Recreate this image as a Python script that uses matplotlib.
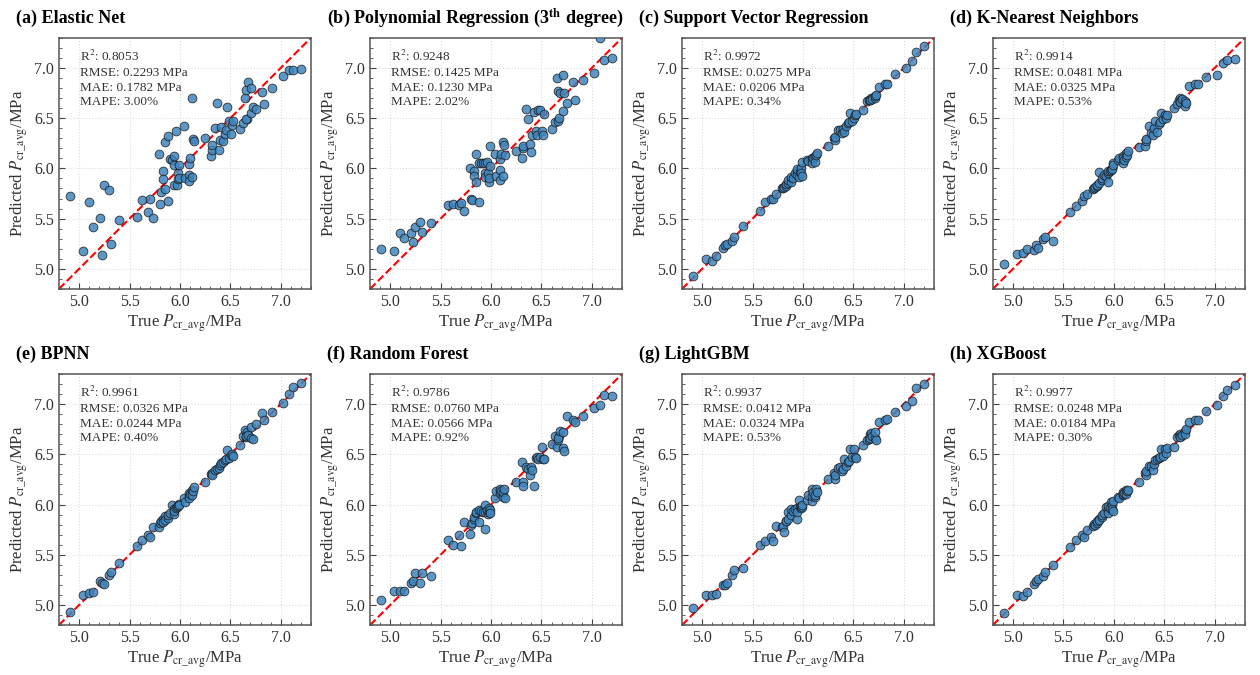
import matplotlib
matplotlib.use("Agg")
import matplotlib.pyplot as plt
from matplotlib.ticker import MultipleLocator

plt.rcParams["font.family"] = ["Liberation Serif", "DejaVu Serif"]
plt.rcParams["mathtext.fontset"] = "stix"

# true test-set values (shared by all models)
y_true = [4.91, 5.04, 5.10, 5.14, 5.21, 5.23, 5.25, 5.30, 5.32, 5.40,
          5.57, 5.62, 5.68, 5.70, 5.73, 5.79, 5.80, 5.81, 5.83, 5.83,
          5.85, 5.85, 5.88, 5.88, 5.90, 5.92, 5.94, 5.94, 5.94, 5.96,
          5.97, 5.98, 5.98, 5.99, 5.99, 6.04, 6.05, 6.09, 6.09, 6.09,
          6.10, 6.12, 6.12, 6.13, 6.14, 6.25, 6.31, 6.32, 6.32, 6.35,
          6.37, 6.39, 6.40, 6.41, 6.43, 6.45, 6.46, 6.47, 6.49, 6.51,
          6.52, 6.53, 6.60, 6.63, 6.65, 6.66, 6.67, 6.66, 6.68, 6.71,
          6.71, 6.72, 6.75, 6.81, 6.83, 6.91, 7.02, 7.08, 7.12, 7.20]

pred_enet = [5.72, 5.18, 5.67, 5.42, 5.51, 5.14, 5.83, 5.78, 5.25, 5.49,
             5.52, 5.69, 5.57, 5.70, 5.51, 6.14, 5.65, 5.76, 5.97, 5.89,
             6.26, 5.79, 6.32, 5.68, 6.09, 6.08, 6.03, 6.12, 5.83, 6.37,
             5.83, 5.95, 5.89, 6.03, 5.90, 6.42, 5.90, 5.93, 5.87, 6.04,
             6.10, 6.70, 5.91, 6.29, 6.27, 6.30, 6.12, 6.18, 6.23, 6.40,
             6.65, 6.18, 6.28, 6.41, 6.27, 6.34, 6.38, 6.61, 6.47, 6.34,
             6.43, 6.47, 6.39, 6.45, 6.70, 6.78, 6.49, 6.49, 6.86, 6.80,
             6.55, 6.61, 6.59, 6.76, 6.64, 6.80, 6.92, 6.98, 6.98, 6.99]

pred_poly = [5.20, 5.18, 5.36, 5.31, 5.36, 5.27, 5.42, 5.47, 5.37, 5.46,
             5.64, 5.65, 5.64, 5.66, 5.58, 6.00, 5.70, 5.69, 5.97, 5.92,
             6.14, 5.86, 6.05, 5.67, 6.05, 6.05, 5.95, 6.05, 5.91, 6.06,
             5.95, 5.86, 5.90, 6.02, 6.22, 6.14, 5.92, 5.98, 5.88, 6.09,
             6.14, 6.26, 5.92, 6.23, 6.13, 6.17, 6.10, 6.20, 6.22, 6.59,
             6.49, 6.24, 6.16, 6.33, 6.56, 6.37, 6.33, 6.58, 6.58, 6.37,
             6.33, 6.54, 6.39, 6.46, 6.90, 6.47, 6.50, 6.77, 6.75, 6.57,
             6.93, 6.75, 6.65, 6.86, 6.68, 6.88, 6.95, 7.30, 7.08, 7.10]

pred_svr = [4.93, 5.10, 5.08, 5.13, 5.21, 5.24, 5.25, 5.28, 5.32, 5.43,
            5.58, 5.67, 5.70, 5.70, 5.74, 5.80, 5.80, 5.81, 5.82, 5.84,
            5.85, 5.88, 5.86, 5.91, 5.90, 5.95, 5.97, 5.93, 5.99, 5.91,
            5.96, 6.00, 5.95, 6.06, 5.92, 6.08, 6.07, 6.10, 6.08, 6.05,
            6.10, 6.12, 6.06, 6.13, 6.15, 6.22, 6.30, 6.28, 6.31, 6.38,
            6.38, 6.35, 6.39, 6.36, 6.42, 6.45, 6.46, 6.55, 6.47, 6.50,
            6.53, 6.54, 6.58, 6.67, 6.68, 6.68, 6.70, 6.68, 6.69, 6.70,
            6.72, 6.73, 6.81, 6.84, 6.84, 6.94, 7.00, 7.07, 7.16, 7.22]

pred_knn = [5.05, 5.15, 5.16, 5.20, 5.19, 5.24, 5.21, 5.30, 5.32, 5.28,
            5.57, 5.63, 5.68, 5.72, 5.74, 5.79, 5.80, 5.81, 5.82, 5.83,
            5.96, 5.85, 5.88, 5.90, 5.93, 5.92, 5.95, 5.97, 5.86, 5.97,
            5.98, 6.00, 5.99, 6.05, 6.03, 6.08, 6.10, 6.12, 6.05, 6.10,
            6.08, 6.15, 6.11, 6.13, 6.17, 6.21, 6.22, 6.27, 6.29, 6.42,
            6.35, 6.33, 6.40, 6.47, 6.36, 6.44, 6.46, 6.55, 6.49, 6.53,
            6.50, 6.53, 6.60, 6.64, 6.68, 6.70, 6.68, 6.66, 6.69, 6.62,
            6.67, 6.65, 6.82, 6.84, 6.84, 6.91, 6.93, 7.05, 7.08, 7.09]

pred_bpnn = [4.93, 5.10, 5.12, 5.13, 5.24, 5.22, 5.21, 5.30, 5.33, 5.42,
             5.59, 5.65, 5.70, 5.68, 5.78, 5.78, 5.82, 5.84, 5.86, 5.83,
             5.89, 5.85, 5.87, 5.90, 5.92, 6.00, 5.96, 5.91, 5.94, 5.97,
             5.98, 6.00, 5.99, 6.01, 6.00, 6.06, 6.03, 6.11, 6.08, 6.06,
             6.10, 6.14, 6.09, 6.13, 6.17, 6.22, 6.30, 6.31, 6.29, 6.34,
             6.35, 6.36, 6.39, 6.41, 6.42, 6.44, 6.45, 6.54, 6.46, 6.49,
             6.50, 6.48, 6.59, 6.68, 6.74, 6.67, 6.72, 6.68, 6.69, 6.66,
             6.77, 6.65, 6.80, 6.91, 6.84, 6.92, 7.01, 7.10, 7.17, 7.21]

pred_rf = [5.05, 5.14, 5.14, 5.14, 5.22, 5.24, 5.32, 5.22, 5.32, 5.29,
           5.65, 5.60, 5.70, 5.59, 5.83, 5.71, 5.80, 5.82, 5.86, 5.88,
           5.92, 5.93, 5.95, 5.83, 5.94, 5.93, 6.00, 5.76, 5.93, 5.95,
           5.91, 5.93, 5.97, 5.95, 5.92, 6.06, 6.13, 6.14, 6.11, 6.15,
           6.13, 6.07, 6.12, 6.15, 6.06, 6.22, 6.42, 6.22, 6.18, 6.37,
           6.35, 6.29, 6.37, 6.34, 6.18, 6.46, 6.47, 6.45, 6.47, 6.57,
           6.45, 6.45, 6.60, 6.68, 6.57, 6.64, 6.68, 6.66, 6.73, 6.72,
           6.56, 6.53, 6.88, 6.84, 6.82, 6.88, 6.96, 6.99, 7.09, 7.08]

pred_lgbm = [4.97, 5.10, 5.10, 5.11, 5.20, 5.20, 5.22, 5.30, 5.35, 5.37,
             5.60, 5.64, 5.68, 5.64, 5.79, 5.78, 5.79, 5.73, 5.84, 5.84,
             5.93, 5.86, 5.90, 5.96, 5.94, 5.96, 5.86, 5.97, 5.93, 6.05,
             5.98, 5.97, 5.99, 5.98, 6.00, 6.05, 6.09, 6.15, 6.04, 6.08,
             6.12, 6.07, 6.09, 6.15, 6.12, 6.25, 6.31, 6.25, 6.29, 6.36,
             6.37, 6.33, 6.35, 6.45, 6.38, 6.42, 6.43, 6.55, 6.47, 6.55,
             6.47, 6.46, 6.59, 6.64, 6.65, 6.70, 6.71, 6.66, 6.68, 6.66,
             6.72, 6.64, 6.82, 6.84, 6.85, 6.92, 6.98, 7.03, 7.16, 7.20]

pred_xgb = [4.92, 5.10, 5.09, 5.13, 5.21, 5.24, 5.26, 5.29, 5.33, 5.40,
            5.58, 5.65, 5.70, 5.68, 5.75, 5.79, 5.81, 5.80, 5.82, 5.84,
            5.86, 5.85, 5.88, 5.90, 5.92, 5.98, 5.96, 5.92, 5.99, 5.97,
            6.03, 6.00, 5.96, 6.04, 5.94, 6.07, 6.06, 6.12, 6.09, 6.10,
            6.11, 6.14, 6.10, 6.13, 6.14, 6.22, 6.31, 6.29, 6.33, 6.38,
            6.38, 6.34, 6.40, 6.44, 6.45, 6.46, 6.47, 6.55, 6.48, 6.55,
            6.51, 6.56, 6.57, 6.67, 6.69, 6.70, 6.68, 6.67, 6.69, 6.73,
            6.70, 6.75, 6.82, 6.84, 6.84, 6.93, 6.99, 7.08, 7.14, 7.19]

titles = ["(a) Elastic Net", "(b) Polynomial Regression (3$^{\\mathbf{th}}$ degree)",
          "(c) Support Vector Regression", "(d) K-Nearest Neighbors",
          "(e) BPNN", "(f) Random Forest", "(g) LightGBM", "(h) XGBoost"]
preds = [pred_enet, pred_poly, pred_svr, pred_knn,
         pred_bpnn, pred_rf, pred_lgbm, pred_xgb]
r2 = ["0.8053", "0.9248", "0.9972", "0.9914", "0.9961", "0.9786", "0.9937", "0.9977"]
rmse = ["0.2293", "0.1425", "0.0275", "0.0481", "0.0326", "0.0760", "0.0412", "0.0248"]
mae = ["0.1782", "0.1230", "0.0206", "0.0325", "0.0244", "0.0566", "0.0324", "0.0184"]
mape = ["3.00", "2.02", "0.34", "0.53", "0.40", "0.92", "0.53", "0.30"]

fig = plt.figure(figsize=(12.6, 6.75), dpi=100)
lefts = [0.0468, 0.2937, 0.5413, 0.788]
bottoms = [0.572, 0.074]
lims = (4.8, 7.3)

for i in range(8):
    ax = fig.add_axes([lefts[i % 4], bottoms[i // 4], 0.2, 0.372])
    ax.grid(True, color="#dddddd", linestyle=":", linewidth=0.8, zorder=0)
    ax.plot(lims, lims, color="red", linestyle="--", linewidth=1.5, zorder=2)
    ax.scatter(y_true, preds[i], s=40, color="#3f85bd", alpha=0.85,
               edgecolors="#1a1a1a", linewidths=0.6, zorder=3)
    ax.set_xlim(lims)
    ax.set_ylim(lims)
    ax.xaxis.set_major_locator(MultipleLocator(0.5))
    ax.yaxis.set_major_locator(MultipleLocator(0.5))
    ax.xaxis.set_minor_locator(MultipleLocator(0.1))
    ax.yaxis.set_minor_locator(MultipleLocator(0.1))
    ax.tick_params(which="both", direction="in", colors="#444444",
                   labelsize=11.5, labelcolor="#333333")
    ax.tick_params(which="major", length=4)
    ax.tick_params(which="minor", length=2)
    for sp in ax.spines.values():
        sp.set_color("#555555")
        sp.set_linewidth(1.1)
    ax.set_xlabel(r"True $P_{\mathrm{cr\_avg}}$/MPa", fontsize=12, color="#333333", labelpad=2)
    ax.set_ylabel(r"Predicted $P_{\mathrm{cr\_avg}}$/MPa", fontsize=12, color="#333333", labelpad=3)
    stats = (f"R$^2$: {r2[i]}\nRMSE: {rmse[i]} MPa\n"
             f"MAE: {mae[i]} MPa\nMAPE: {mape[i]}%")
    ax.text(0.085, 0.955, stats, transform=ax.transAxes, ha="left", va="top",
            fontsize=9.5, color="#333333", linespacing=1.3, zorder=5)
    ax.text(-0.17, 1.06, titles[i], transform=ax.transAxes, ha="left",
            va="baseline", fontsize=13, fontweight="bold")

fig.savefig("out.png", dpi=100)
